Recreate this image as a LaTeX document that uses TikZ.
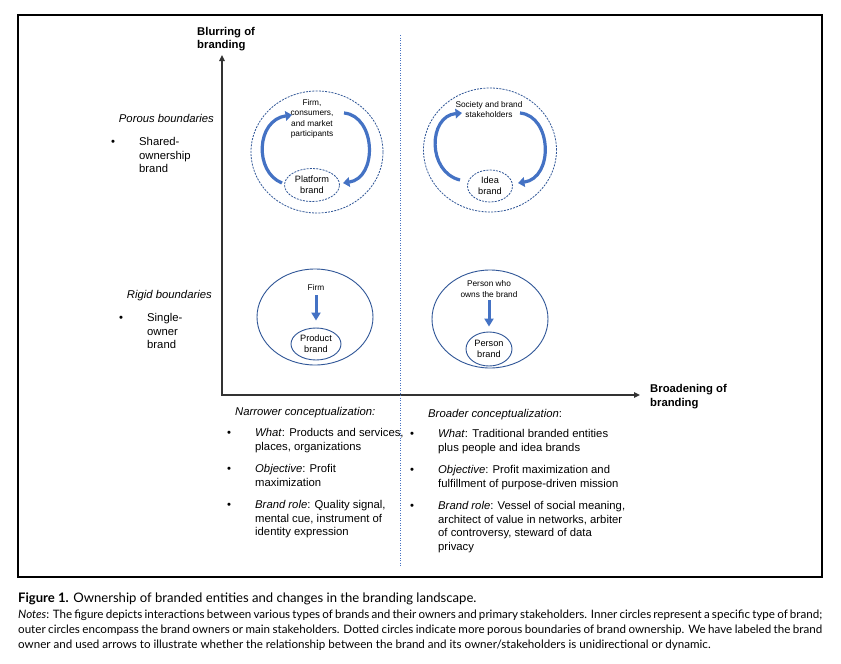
\documentclass[tikz,border=0pt]{standalone}
\usepackage{fontspec}
\setmainfont{Liberation Sans}
\newfontfamily\capfont{Lato}
\usetikzlibrary{arrows.meta,shapes.geometric}
\definecolor{ringblue}{HTML}{2F5597}
\definecolor{arrowblue}{HTML}{4472C4}
\definecolor{axisgray}{HTML}{333333}
\newcommand{\mainsize}{\fontsize{11.3}{13.7}\selectfont}
\newcommand{\ownersize}{\fontsize{8.3}{10.3}\selectfont}
\newcommand{\brandsize}{\fontsize{9.2}{11}\selectfont}
\newcommand{\capsize}{\capfont\fontsize{11.6}{15}\selectfont}

\begin{document}
\begin{tikzpicture}[x=1pt,y=-1pt,
  axis/.style={line width=1.4pt,axisgray,{Triangle[width=5.5pt,length=6pt]}-{Triangle[width=5.5pt,length=6pt]}},
  porous/.style={draw=ringblue,line width=0.8pt,dash pattern=on 2pt off 1.2pt},
  rigid/.style={draw=ringblue,line width=0.9pt},
  ring/.style={ellipse,inner sep=0pt},
  cyclearrow/.style={line width=3.2pt,arrowblue,-{Triangle[width=9.5pt,length=6.5pt]}},
  pusharrow/.style={line width=3pt,arrowblue,-{Triangle[width=9pt,length=8pt]}},
  owner/.style={font=\ownersize,align=center,inner sep=0pt},
  brandlbl/.style={font=\brandsize,align=center,inner sep=0pt},
  txt/.style={font=\mainsize,align=left,inner sep=0pt,anchor=base west},
  dot/.style={font=\mainsize,inner sep=0pt,anchor=base},
  divider/.style={arrowblue,line width=1pt,dash pattern=on 1pt off 1.5pt}]

  \useasboundingbox (0,0) rectangle (841,664);
  \fill[white] (0,0) rectangle (841,664);
  \draw[line width=1.2pt] (18,15) rectangle (822,577);

  % axes (multi-line texts sit on the baseline of their last line)
  \coordinate (O) at (222,395);
  \coordinate (ytop) at (222,55);
  \coordinate (xend) at (640,395);
  \draw[axis] (ytop) -- (O) -- (xend);
  \node[txt,font=\fontsize{11.3}{12.6}\selectfont\bfseries] (blur) at (197,48.3) {Blurring of\\branding};
  \node[txt,font=\mainsize\bfseries] (broad) at (650,406.2) {Broadening of\\branding};

  \draw[divider] (400,35) -- (400,567);

  % left side labels
  \node[txt,anchor=base east,font=\mainsize\itshape] (porouslbl) at (214,122.5) {Porous boundaries};
  \node[dot] (b1) at (113,145.5) {•};
  \node[txt] (shared) at (139,172.9) {Shared-\\ownership\\brand};
  \node[txt,anchor=base east,font=\mainsize\itshape] (rigidlbl) at (212,298.5) {Rigid boundaries};
  \node[dot] (b2) at (121,321.5) {•};
  \node[txt] (single) at (147,348.9) {Single-\\owner\\brand};

  % platform brand
  \node[ring,porous,minimum width=132pt,minimum height=122pt] (ringPL) at (317,152) {};
  \node[ring,porous,brandlbl,minimum width=55pt,minimum height=33pt] (platform) at (312,185) {Platform\\brand};
  \node[owner] (market) at (312,119) {Firm,\\consumers,\\and market\\participants};
  \coordinate (pl-a) at (282,183);
  \coordinate (pl-b) at (292,115);
  \coordinate (pl-c) at (344,113);
  \coordinate (pl-d) at (343,183);
  \draw[cyclearrow] (pl-a) .. controls (254,172) and (256,120) .. (pl-b);
  \draw[cyclearrow] (pl-c) .. controls (376,116) and (378,178) .. (pl-d);

  % idea brand
  \node[ring,porous,minimum width=133pt,minimum height=124pt] (ringID) at (490,150) {};
  \node[ring,porous,brandlbl,minimum width=45pt,minimum height=32pt] (idea) at (490,186) {Idea\\brand};
  \node[owner] (society) at (489,109.5) {Society and brand\\stakeholders};
  \coordinate (id-a) at (460,180);
  \coordinate (id-b) at (462,113);
  \coordinate (id-c) at (520,113);
  \coordinate (id-d) at (518,183);
  \draw[cyclearrow] (id-a) .. controls (427,172) and (428,116) .. (id-b);
  \draw[cyclearrow] (id-c) .. controls (552,116) and (554,178) .. (id-d);

  % product brand
  \node[ring,rigid,minimum width=116pt,minimum height=96pt] (ringPR) at (315,317) {};
  \node[ring,rigid,brandlbl,minimum width=50pt,minimum height=32pt] (product) at (316,344) {Product\\brand};
  \node[owner] (firm) at (316,287) {Firm};
  \draw[pusharrow,shorten <=5pt,shorten >=7pt] (firm.south) -- (product.north);

  % person brand
  \node[ring,rigid,minimum width=116pt,minimum height=98pt] (ringPE) at (490,319) {};
  \node[ring,rigid,brandlbl,minimum width=46pt,minimum height=34pt] (person) at (489,349) {Person\\brand};
  \node[owner] (holder) at (489,289) {Person who\\owns the brand};
  \draw[pusharrow,shorten <=3pt,shorten >=5pt] (holder.south) -- (person.north);

  % conceptualizations
  \node[txt,font=\mainsize\itshape] (narrow) at (235,415.5) {Narrower conceptualization:};
  \node[dot] (n1) at (229,436.5) {•};
  \node[txt] (nwhat) at (255,450.2) {\textit{What}: Products and services,\\places, organizations};
  \node[dot] (n2) at (229,472.5) {•};
  \node[txt] (nobj) at (255,486.2) {\textit{Objective}: Profit\\maximization};
  \node[dot] (n3) at (229,508.5) {•};
  \node[txt] (nrole) at (255,535.9) {\textit{Brand role}: Quality signal,\\mental cue, instrument of\\identity expression};

  \node[txt] (wide) at (428,417.5) {\textit{Broader conceptualization}:};
  \node[dot] (w1) at (412,437.5) {•};
  \node[txt] (wwhat) at (438,451.2) {\textit{What}: Traditional branded entities\\plus people and idea brands};
  \node[dot] (w2) at (412,473.5) {•};
  \node[txt] (wobj) at (438,487.2) {\textit{Objective}: Profit maximization and\\fulfillment of purpose-driven mission};
  \node[dot] (w3) at (412,509.5) {•};
  \node[txt] (wrole) at (438,550.6) {\textit{Brand role}: Vessel of social meaning,\\architect of value in networks, arbiter\\of controversy, steward of data\\privacy};

  % caption
  \node[inner sep=0pt,anchor=base west,font=\capfont\fontsize{13.1}{15}\selectfont] (title) at (18,602.5)
    {\textbf{Figure 1.} Ownership of branded entities and changes in the branding landscape.};
  \node[inner sep=0pt,anchor=base west,font=\capsize] (notes1) at (18,618.5)
    {\makebox[804pt][s]{\textit{Notes}: The figure depicts interactions between various types of brands and their owners and primary stakeholders. Inner circles represent a specific type of brand;}};
  \node[inner sep=0pt,anchor=base west,font=\capsize] (notes2) at (18,633.5)
    {\makebox[804pt][s]{outer circles encompass the brand owners or main stakeholders. Dotted circles indicate more porous boundaries of brand ownership. We have labeled the brand}};
  \node[inner sep=0pt,anchor=base west,font=\capsize] (notes3) at (18,648.5)
    {owner and used arrows to illustrate whether the relationship between the brand and its owner/stakeholders is unidirectional or dynamic.};
\end{tikzpicture}
\end{document}
